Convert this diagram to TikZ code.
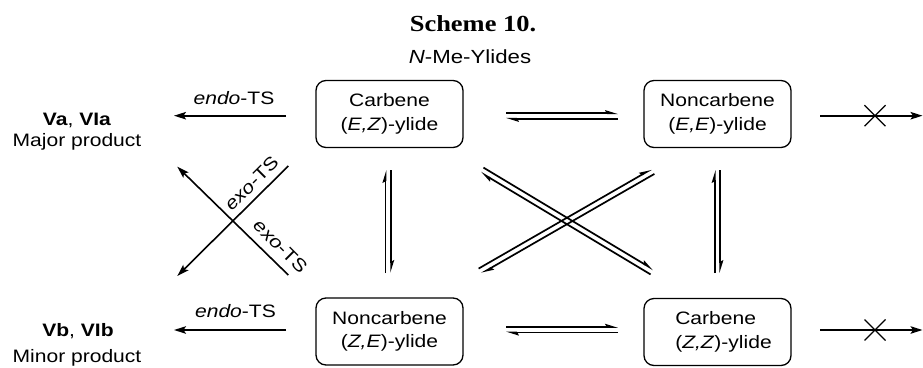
\documentclass[tikz,border=0pt]{standalone}
\usepackage{fontspec}
\setmainfont{Liberation Sans}[FakeStretch=1.17]
\newfontfamily\titlefont{Liberation Serif}[FakeStretch=1.15]
\usetikzlibrary{arrows.meta,calc}

% equilibrium pair: two parallel half-arrows between #1 and #2
\newcommand\eqpair[2]{%
  \draw[eqline] ($(#1)!\eqgap!90:(#2)$) -- ($(#2)!\eqgap!-90:(#1)$);
  \draw[eqline] ($(#2)!\eqgap!90:(#1)$) -- ($(#1)!\eqgap!-90:(#2)$);}
\newcommand\eqgap{2.8pt}

\begin{document}
\begin{tikzpicture}[x=1pt,y=-1pt,
  every node/.style={font=\fontsize{18}{23.5}\selectfont, inner sep=0pt},
  ylide/.style={draw, line width=1.3pt, rounded corners=10pt,
    minimum width=147pt, minimum height=67pt, align=center},
  react/.style={line width=1.6pt, -{Stealth[length=12pt,width=7.5pt,inset=2.5pt]}},
  eqline/.style={line width=1.7pt, -{Stealth[harpoon,length=10pt,width=6pt,inset=1.5pt]}},
  cross/.style={line width=1.3pt}]

\fill[white] (0,0) rectangle (923,367);
\useasboundingbox (0,0) rectangle (923,367);

% heading
\node[anchor=base, font=\titlefont\fontsize{23}{28}\selectfont\bfseries] (title) at (473,31.7) {Scheme 10.};
\node[anchor=base, font=\fontsize{19}{23}\selectfont] (subtitle) at (470,63) {\textit{N}-Me-Ylides};

% ylides
\node[ylide] (ez) at (389.5,114) {Carbene\\(\textit{E,Z})-ylide};
\node[ylide] (ee) at (717.5,114) {Noncarbene\\(\textit{E,E})-ylide};
\node[ylide] (ze) at (389.5,331.5) {Noncarbene\\(\textit{Z,E})-ylide};
\node[ylide, align=left] (zz) at (717.5,332) {\hspace*{12pt}Carbene\\\hspace*{12pt}(\textit{Z,Z})-ylide};

% products
\node[anchor=base] (pa) at (77,125) {\textbf{Va}, \textbf{VIa}};
\node[anchor=base] (pam) at (77,146.7) {Major product};
\node[anchor=base] (pb) at (78,336.7) {\textbf{Vb}, \textbf{VIb}};
\node[anchor=base] (pbm) at (77,362) {Minor product};

% endo pathways
\coordinate (e1s) at (286,115.7); \coordinate (e1e) at (174,115.7);
\coordinate (e2s) at (286,330);   \coordinate (e2e) at (174,330);
\draw[react] (e1s) -- (e1e);
\draw[react] (e2s) -- (e2e);
\node[anchor=base] (endo1) at (234,104.3) {\textit{endo}-TS};
\node[anchor=base] (endo2) at (235.5,317.3) {\textit{endo}-TS};

% exo pathways
\coordinate (x1s) at (288.3,275); \coordinate (x1e) at (177.3,166.7);
\coordinate (x2s) at (288.3,166); \coordinate (x2e) at (177.3,276);
\draw[react] (x1s) -- (x1e);
\draw[react] (x2s) -- (x2e);
\node[rotate=45] (exo1) at (251.5,183.5) {\textit{exo}-TS};
\node[rotate=-45] (exo2) at (280.5,246.5) {\textit{exo}-TS};

% equilibria
\coordinate (h1a) at (506,116);   \coordinate (h1b) at (618,116);
\coordinate (h2a) at (506,329.7); \coordinate (h2b) at (618,329.7);
\coordinate (v1a) at (388.3,273); \coordinate (v1b) at (388.3,170);
\coordinate (v2a) at (717.5,273); \coordinate (v2b) at (717.5,170);
\coordinate (d1a) at (482,170);   \coordinate (d1b) at (652,272);
\coordinate (d2a) at (480,271);   \coordinate (d2b) at (653,171.5);
\eqpair{h1a}{h1b}
\eqpair{h2a}{h2b}
\eqpair{v1a}{v1b}
\eqpair{v2a}{v2b}
\eqpair{d1a}{d1b}
\eqpair{d2a}{d2b}

% blocked pathways
\coordinate (b1s) at (820,115.7); \coordinate (b1e) at (922.5,115.7); \coordinate (bx1) at (875,115.7);
\coordinate (b2s) at (820,330);   \coordinate (b2e) at (922.5,330);   \coordinate (bx2) at (875,330);
\draw[react] (b1s) -- (b1e);
\draw[react] (b2s) -- (b2e);
\foreach \c in {bx1,bx2}{
  \draw[cross] ($(\c)+(-10.5,-10.5)$) -- ($(\c)+(10.5,10.5)$);
  \draw[cross] ($(\c)+(-10.5,10.5)$) -- ($(\c)+(10.5,-10.5)$);
}
\end{tikzpicture}
\end{document}
